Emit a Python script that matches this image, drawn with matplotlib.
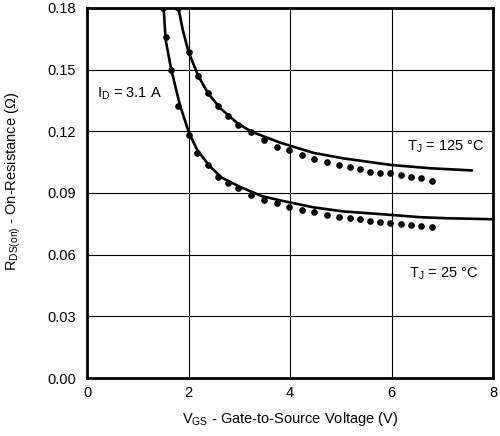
import matplotlib
matplotlib.use("Agg")
import matplotlib.pyplot as plt

plt.rcParams["font.family"] = ["Liberation Sans", "DejaVu Sans"]
plt.rcParams["mathtext.fontset"] = "custom"
plt.rcParams["mathtext.rm"] = "Liberation Sans"
plt.rcParams["mathtext.it"] = "Liberation Sans"
plt.rcParams["mathtext.default"] = "regular"

# fitted curves, VGS (V) vs RDS(on) (ohm)
vgs_line_25 = [1.51, 1.55, 1.66, 1.83, 2.01, 2.17, 2.40, 2.65, 3.01, 3.44, 3.80, 4.46, 5.05, 6.00, 6.56, 7.09, 8.00]
rds_line_25 = [0.180, 0.1644, 0.150, 0.1328, 0.1192, 0.111, 0.1035, 0.0975, 0.0930, 0.0885, 0.0864, 0.0830, 0.0810, 0.0793, 0.0782, 0.0777, 0.0772]

vgs_line_125 = [1.80, 1.89, 2.00, 2.19, 2.38, 2.62, 2.98, 3.25, 3.80, 4.46, 5.05, 5.99, 6.76, 7.61]
rds_line_125 = [0.180, 0.169, 0.1586, 0.147, 0.1387, 0.1313, 0.1236, 0.1197, 0.1145, 0.1095, 0.1068, 0.1036, 0.1020, 0.1009]

# measured points
vgs_pts_25 = [1.50, 1.56, 1.65, 1.80, 2.01, 2.16, 2.39, 2.59, 2.78, 2.98, 3.23, 3.49, 3.74, 3.99,
              4.23, 4.48, 4.72, 4.97, 5.18, 5.38, 5.58, 5.77, 5.98, 6.18, 6.38, 6.58, 6.80]
rds_pts_25 = [0.180, 0.1656, 0.1498, 0.1325, 0.1182, 0.1093, 0.1036, 0.0979, 0.0947, 0.0923, 0.0890,
              0.0866, 0.0850, 0.0830, 0.0817, 0.0806, 0.0793, 0.0785, 0.0779, 0.0772, 0.0765, 0.0760,
              0.0756, 0.0749, 0.0744, 0.0738, 0.0736]

vgs_pts_125 = [1.79, 2.00, 2.19, 2.39, 2.59, 2.78, 2.98, 3.23, 3.49, 3.74, 3.99, 4.23, 4.48, 4.72,
               4.97, 5.18, 5.38, 5.58, 5.77, 5.98, 6.18, 6.38, 6.58, 6.80]
rds_pts_125 = [0.180, 0.1587, 0.1469, 0.1388, 0.1323, 0.1275, 0.1231, 0.1198, 0.1158, 0.1125, 0.1109,
               0.1085, 0.1064, 0.1052, 0.1036, 0.1028, 0.1015, 0.1004, 0.0999, 0.0996, 0.0988, 0.0979,
               0.0972, 0.0960]

x_ticks = [0, 2, 4, 6, 8]
y_ticks = [0.00, 0.03, 0.06, 0.09, 0.12, 0.15, 0.18]

fs = 10.5

fig = plt.figure(figsize=(5, 4.36), dpi=100)
ax = fig.add_axes([0.174, 0.133, 0.812, 0.849])

ax.plot(vgs_line_25, rds_line_25, color="black", lw=1.9, solid_capstyle="butt")
ax.plot(vgs_line_125, rds_line_125, color="black", lw=1.9, solid_capstyle="butt")
ax.plot(vgs_pts_25, rds_pts_25, "o", color="black", ms=4.8, mew=0)
ax.plot(vgs_pts_125, rds_pts_125, "o", color="black", ms=4.8, mew=0)

ax.set_xlim(0, 8)
ax.set_ylim(0, 0.18)
ax.set_xticks(x_ticks)
ax.set_yticks(y_ticks)
ax.set_xticklabels([str(t) for t in x_ticks])
ax.set_yticklabels([f"{t:.2f}" for t in y_ticks])
ax.tick_params(axis="y", length=0, labelsize=fs, pad=8)
ax.tick_params(axis="x", length=0, labelsize=fs, pad=6)
ax.grid(True, color="black", lw=0.8)
for s in ax.spines.values():
    s.set_linewidth(2)

ax.set_xlabel(r"$V_{GS}$ - Gate-to-Source Voltage (V)", fontsize=fs, labelpad=7)
ax.set_ylabel(r"$R_{DS(on)}$ - On-Resistance (Ω)", fontsize=fs)
ax.yaxis.set_label_coords(-0.157, 0.53)

ax.text(0.2, 0.138, r"$I_D$ = 3.1 A", fontsize=fs, va="center")
ax.text(6.3, 0.1125, r"$T_J$ = 125 °C", fontsize=fs, va="center")
ax.text(6.35, 0.0505, r"$T_J$ = 25 °C", fontsize=fs, va="center")

fig.savefig("out.png", dpi=100)
